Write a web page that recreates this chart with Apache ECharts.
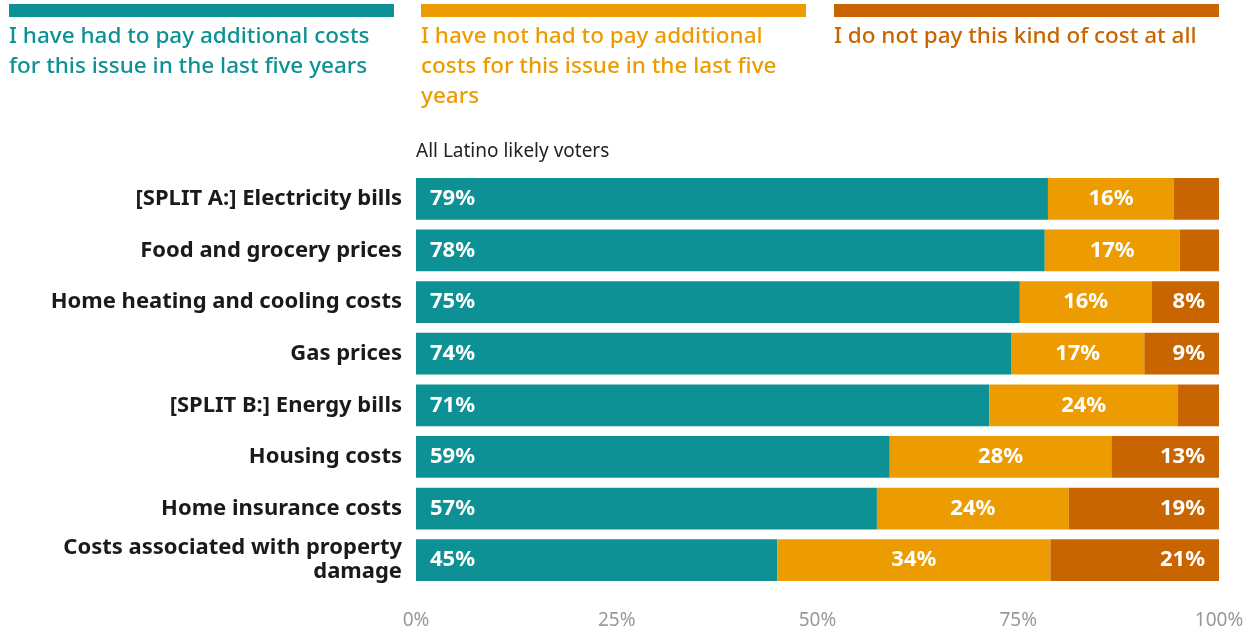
<!DOCTYPE html>
<html>
<head>
<meta charset="utf-8">
<script src="https://cdn.jsdelivr.net/npm/echarts@6/dist/echarts.min.js"></script>
<style>
  html, body { margin: 0; padding: 0; background: #fff; }
  #chart { width: 1255px; height: 630px; }
</style>
</head>
<body>
<div id="chart"></div>
<script>
// data
const categories = [
  '[SPLIT A:] Electricity bills',
  'Food and grocery prices',
  'Home heating and cooling costs',
  'Gas prices',
  '[SPLIT B:] Energy bills',
  'Housing costs',
  'Home insurance costs',
  'Costs associated with property\ndamage'
];
const hadToPay = [78.7, 78.3, 75.2, 74.1, 71.4, 59.0, 57.4, 45.0];
const notHadToPay = [15.7, 16.8, 16.4, 16.6, 23.5, 27.6, 23.9, 34.0];
const doNotPay = [5.6, 4.9, 8.4, 9.3, 5.1, 13.4, 18.7, 21.0];
const seriesNames = [
  'I have had to pay additional costs\nfor this issue in the last five years',
  'I have not had to pay additional\ncosts for this issue in the last five\nyears',
  'I do not pay this kind of cost at all'
];
const colors = ['#0d9194', '#ec9c00', '#c96500'];

const font = '"Noto Sans", "Open Sans", sans-serif';

const labelFmt = (p) => (p.value >= 7 ? Math.round(p.value) + '%' : '');

const makeSeries = (name, data, color, pos) => ({
  name: name,
  type: 'bar',
  stack: 'total',
  data: data,
  barCategoryGap: '19%',
  itemStyle: { color: color },
  label: {
    show: true,
    position: pos,
    distance: 14,
    formatter: labelFmt,
    color: '#fff',
    fontSize: 22,
    fontWeight: 'bold',
    fontFamily: font
  },
  emphasis: { disabled: true }
});

// legend drawn as graphic: coloured bar over wrapped text
const legendX = [9, 421, 834];
const legendGraphic = [];
seriesNames.forEach((n, i) => {
  legendGraphic.push({
    type: 'rect',
    left: legendX[i], top: 4,
    shape: { width: 385, height: 13 },
    style: { fill: colors[i] }
  });
  legendGraphic.push({
    type: 'text',
    left: legendX[i], top: 22,
    style: {
      text: n,
      fill: colors[i],
      font: '500 22.5px ' + font,
      lineHeight: 30
    }
  });
});

const chart = echarts.init(document.getElementById('chart'));
const option = {
  animation: false,
  grid: { left: 416, right: 36, top: 173, bottom: 43, containLabel: false },
  xAxis: {
    type: 'value',
    min: 0,
    max: 100,
    interval: 25,
    axisLine: { show: false },
    axisTick: { show: false },
    splitLine: { show: false },
    axisLabel: {
      formatter: '{value}%',
      color: '#999',
      fontSize: 19,
      fontFamily: font,
      margin: 25
    }
  },
  yAxis: {
    type: 'category',
    data: categories,
    inverse: true,
    axisLine: { show: false },
    axisTick: { show: false },
    axisLabel: {
      color: '#1a1a1a',
      fontSize: 22,
      fontWeight: 'bold',
      fontFamily: font,
      margin: 14,
      lineHeight: 24,
      align: 'right'
    }
  },
  graphic: legendGraphic.concat([{
    type: 'text',
    left: 416, top: 142,
    style: { text: 'All Latino likely voters', fill: '#222', font: '19px ' + font }
  }]),
  series: [
    makeSeries(seriesNames[0], hadToPay, colors[0], 'insideLeft'),
    makeSeries(seriesNames[1], notHadToPay, colors[1], 'inside'),
    makeSeries(seriesNames[2], doNotPay, colors[2], 'insideRight')
  ]
};
chart.setOption(option);
</script>
</body>
</html>
